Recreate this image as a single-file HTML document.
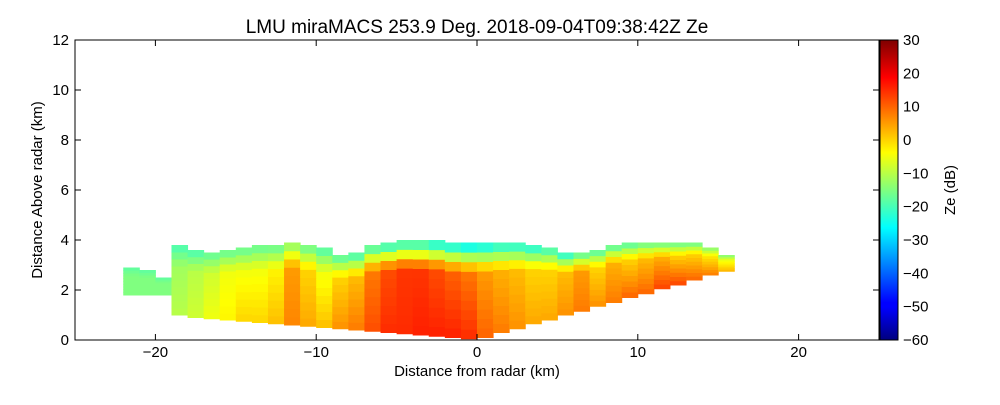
<!DOCTYPE html>
<html><head><meta charset="utf-8"><style>
body{margin:0;background:#fff;font-family:"Liberation Sans",sans-serif}
</style></head><body>
<svg id="chart" width="1000" height="400" xmlns="http://www.w3.org/2000/svg" font-family="Liberation Sans, sans-serif">
<defs>
<linearGradient id="jet" x1="0" y1="1" x2="0" y2="0">
<stop offset="0" stop-color="#00007f"/><stop offset="0.11" stop-color="#0000ff"/>
<stop offset="0.125" stop-color="#0000ff"/><stop offset="0.375" stop-color="#00ffff"/>
<stop offset="0.5" stop-color="#7fff7f"/><stop offset="0.625" stop-color="#ffff00"/>
<stop offset="0.875" stop-color="#ff0000"/><stop offset="1" stop-color="#7f0000"/>
</linearGradient>
</defs>
<text x="477" y="33" font-size="19" text-anchor="middle">LMU miraMACS 253.9 Deg. 2018-09-04T09:38:42Z  Ze</text>
<g id="cells"></g>
<rect x="75" y="40" width="804" height="300" fill="none" stroke="#000"/>
<g id="axes"></g>
<rect x="880" y="40" width="18" height="300" fill="url(#jet)" stroke="#000"/>
<text x="0" y="0" font-size="15" text-anchor="middle" transform="translate(42,190) rotate(-90)">Distance Above radar  (km)</text>
<text x="477" y="376" font-size="15" text-anchor="middle">Distance from radar (km)</text>
<text x="0" y="0" font-size="15" text-anchor="middle" transform="translate(955,190) rotate(-90)">Ze (dB)</text>
</svg>
<script>
const colCenters=[-21.5,-20.5,-19.5,-18.5,-17.5,-16.5,-15.5,-14.5,-13.5,-12.5,-11.5,-10.5,-9.5,-8.5,-7.5,-6.5,-5.5,-4.5,-3.5,-2.5,-1.5,-0.5,0.5,1.5,2.5,3.5,4.5,5.5,6.5,7.5,8.5,9.5,10.5,11.5,12.5,13.5,14.5,15.5];
const colBottom=[1.8,1.8,1.8,1.0,0.9,0.85,0.8,0.75,0.7,0.65,0.6,0.55,0.5,0.45,0.4,0.35,0.3,0.25,0.2,0.15,0.1,0.05,0.1,0.3,0.45,0.65,0.8,1.0,1.15,1.35,1.5,1.7,1.85,2.05,2.2,2.4,2.6,2.75];
const colTop=[2.9,2.8,2.5,3.8,3.6,3.5,3.6,3.7,3.8,3.8,3.9,3.8,3.7,3.4,3.5,3.8,3.9,4.0,4.0,4.0,3.9,3.9,3.9,3.9,3.9,3.8,3.7,3.5,3.5,3.6,3.8,3.9,3.9,3.9,3.9,3.9,3.7,3.4];
const zeLow=[-15,-15,-15,-10,-8,-5,-3,0,0,2,7,4,2,6,8,12,15,15,16,16,16,15,10,8,6,4,4,6,8,6,8,10,10,13,13,10,8,3];
const zeMid=[-15,-15,-15,-12,-10,-8,-5,-5,-5,-3,5,0,-5,0,2,8,12,14,14,12,10,8,5,3,2,0,0,2,5,0,3,0,2,3,0,0,-2,-5];
const zeHigh=[-18,-18,-18,-20,-20,-18,-18,-18,-18,-18,-15,-18,-20,-20,-22,-22,-25,-25,-25,-28,-28,-30,-28,-25,-25,-25,-22,-25,-20,-20,-20,-20,-18,-18,-18,-18,-15,-15];
const xTicks=[-20,-10,0,10,20], yTicks=[0,2,4,6,8,10,12], cTicks=[-60,-50,-40,-30,-20,-10,0,10,20,30];
const X=v=>477+v*16.08, Y=v=>340-v*25, C=v=>340-(v+60)*300/90;
function jet(v){let t=(v+60)/90;t=Math.max(0,Math.min(1,t));
 const f=x=>Math.max(0,Math.min(1,1.5-Math.abs(4*t-x)));
 return `rgb(${Math.round(255*f(3))},${Math.round(255*f(2))},${Math.round(255*f(1))})`;}
const NS="http://www.w3.org/2000/svg";
const g=document.getElementById('cells');
colCenters.forEach((c,i)=>{
 const n=10,b=colBottom[i],t=colTop[i];
 for(let k=0;k<n;k++){
  const f=(k+0.5)/n;
  const z=f<0.7?zeLow[i]+(zeMid[i]-zeLow[i])*f/0.7:zeMid[i]+(zeHigh[i]-zeMid[i])*(f-0.7)/0.3;
  const y0=b+(t-b)*k/n,y1=b+(t-b)*(k+1)/n;
  const r=document.createElementNS(NS,'rect');
  r.setAttribute('x',X(c-0.5));r.setAttribute('width',X(c+0.5)-X(c-0.5)+0.5);
  r.setAttribute('y',Y(y1));r.setAttribute('height',Y(y0)-Y(y1)+0.5);
  r.setAttribute('fill',jet(z));
  
  
  g.appendChild(r);
 }
});
const ax=document.getElementById('axes');
function add(tag,attrs,txt,name){const e=document.createElementNS(NS,tag);for(const k in attrs)e.setAttribute(k,attrs[k]);if(txt!==undefined)e.textContent=txt;
 
 
 ax.appendChild(e);}
xTicks.forEach(v=>{add('line',{x1:X(v),x2:X(v),y1:340,y2:334,stroke:'#000'},undefined,'x-tick');add('line',{x1:X(v),x2:X(v),y1:40,y2:46,stroke:'#000'},undefined,'x-tick-top');
 add('text',{x:X(v),y:357,'font-size':15,'text-anchor':'middle'},v<0?'\u2212'+(-v):String(v),'x-tick-label');});
yTicks.forEach(v=>{add('line',{x1:75,x2:81,y1:Y(v),y2:Y(v),stroke:'#000'},undefined,'y-tick');add('line',{x1:879,x2:873,y1:Y(v),y2:Y(v),stroke:'#000'},undefined,'y-tick-right');
 add('text',{x:69,y:Y(v)+5,'font-size':15,'text-anchor':'end'},String(v),'y-tick-label');});
cTicks.forEach(v=>{add('line',{x1:894,x2:898,y1:C(v),y2:C(v),stroke:'#000'},undefined,'colorbar-tick');
 add('text',{x:903,y:C(v)+5,'font-size':15},v<0?'\u2212'+(-v):String(v),'colorbar-tick-label');});
</script>
</body></html>
